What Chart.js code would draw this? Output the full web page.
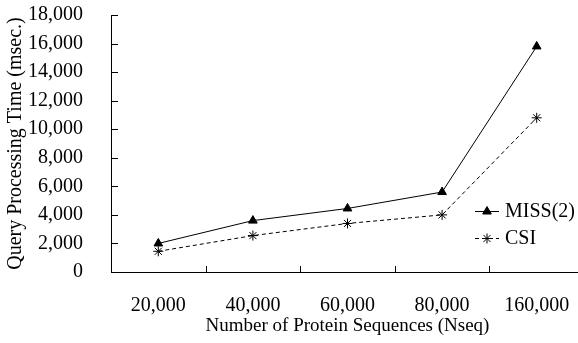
<!DOCTYPE html>
<html>
<head>
<meta charset="utf-8">
<script src="https://cdn.jsdelivr.net/npm/chart.js@4.4.0/dist/chart.umd.min.js"></script>
<style>
  html, body { margin: 0; padding: 0; background: #fff; overflow: hidden; }
  #wrap { width: 600px; height: 343px; }
</style>
</head>
<body>
<div id="wrap"><canvas id="myChart" width="600" height="343"></canvas></div>
<script>
// values
const categories = ['20,000', '40,000', '60,000', '80,000', '160,000'];
const missValues = [2000, 3600, 4450, 5600, 15800];
const csiValues = [1450, 2550, 3400, 4000, 10800];
const seriesNames = ['MISS(2)', 'CSI'];

const serif = 'Liberation Serif';

// tick marks drawn inward, like the original figure
const innerTicks = {
    id: 'innerTicks',
    afterDraw(chart) {
        const ctx = chart.ctx;
        const area = chart.chartArea;
        const x = chart.scales.x, y = chart.scales.y;
        ctx.save();
        ctx.strokeStyle = '#000';
        ctx.lineWidth = 1;
        ctx.beginPath();
        y.ticks.forEach((t, i) => {
            const py = Math.round(y.getPixelForTick(i)) + 0.5;
            ctx.moveTo(area.left, py);
            ctx.lineTo(area.left + 7, py);
        });
        for (let i = 1; i < categories.length; i++) {
            const px = Math.round((x.getPixelForValue(i - 1) + x.getPixelForValue(i)) / 2) + 0.5;
            ctx.moveTo(px, area.bottom);
            ctx.lineTo(px, area.bottom - 6);
        }
        ctx.stroke();
        ctx.restore();
    }
};

// legend placed inside the plot, right side
const insideLegend = {
    id: 'insideLegend',
    afterDraw(chart) {
        const ctx = chart.ctx;
        const lx = 475, tx = 505;
        const rows = [211, 238];
        ctx.save();
        chart.data.datasets.forEach((ds, i) => {
            const yy = rows[i] + 0.5;
            ctx.strokeStyle = '#000';
            ctx.lineWidth = 1;
            ctx.setLineDash(ds.borderDash || []);
            ctx.beginPath();
            ctx.moveTo(lx, yy);
            ctx.lineTo(lx + 24, yy);
            ctx.stroke();
            ctx.setLineDash([]);
            ctx.fillStyle = '#000';
            Chart.helpers.drawPoint(ctx, {
                pointStyle: ds.pointStyle,
                radius: ds.pointRadius,
                rotation: 0,
                borderWidth: 1
            }, lx + 12, yy);
            ctx.fillStyle = '#000';
            ctx.font = '20px "' + serif + '"';
            ctx.textBaseline = 'middle';
            ctx.fillText(ds.label, tx, yy);
        });
        ctx.restore();
    }
};

const ctx = document.getElementById('myChart').getContext('2d');
new Chart(ctx, {
    type: 'line',
    data: {
        labels: categories,
        datasets: [{
            label: seriesNames[0],
            data: missValues,
            borderColor: '#000',
            backgroundColor: '#000',
            borderWidth: 1,
            pointStyle: 'triangle',
            pointRadius: 5,
            pointBorderWidth: 1
        }, {
            label: seriesNames[1],
            data: csiValues,
            borderColor: '#000',
            backgroundColor: '#000',
            borderWidth: 1,
            borderDash: [4, 3],
            pointStyle: 'star',
            pointRadius: 5,
            pointBorderWidth: 1
        }]
    },
    options: {
        responsive: false,
        animation: false,
        layout: { padding: { top: 15, right: 16 } },
        plugins: {
            legend: { display: false },
            tooltip: { enabled: false }
        },
        scales: {
            x: {
                offset: true,
                grid: { display: false, offset: true },
                border: { display: true, color: '#000', width: 1 },
                ticks: { color: '#000', padding: 14, font: { family: serif, size: 20 } },
                title: {
                    display: true,
                    text: 'Number of Protein Sequences (Nseq)',
                    color: '#000',
                    padding: { top: -4, bottom: 6 },
                    font: { family: serif, size: 19 }
                },
                afterFit: s => { s.height = 71; s.paddingLeft = 0; s.paddingRight = 0; }
            },
            y: {
                min: 0,
                max: 18000,
                ticks: {
                    stepSize: 2000,
                    autoSkip: false,
                    color: '#000',
                    padding: 20,
                    font: { family: serif, size: 20 },
                    callback: v => v.toLocaleString('en-US')
                },
                grid: { display: false },
                border: { display: true, color: '#000', width: 1 },
                title: {
                    display: true,
                    text: 'Query Processing Time (msec.)',
                    color: '#000',
                    padding: { top: 4, bottom: 0 },
                    font: { family: serif, size: 20 }
                },
                afterFit: s => { s.width = 111; s.paddingTop = 0; s.paddingBottom = 0; }
            }
        }
    },
    plugins: [innerTicks, insideLegend]
});
</script>
</body>
</html>
